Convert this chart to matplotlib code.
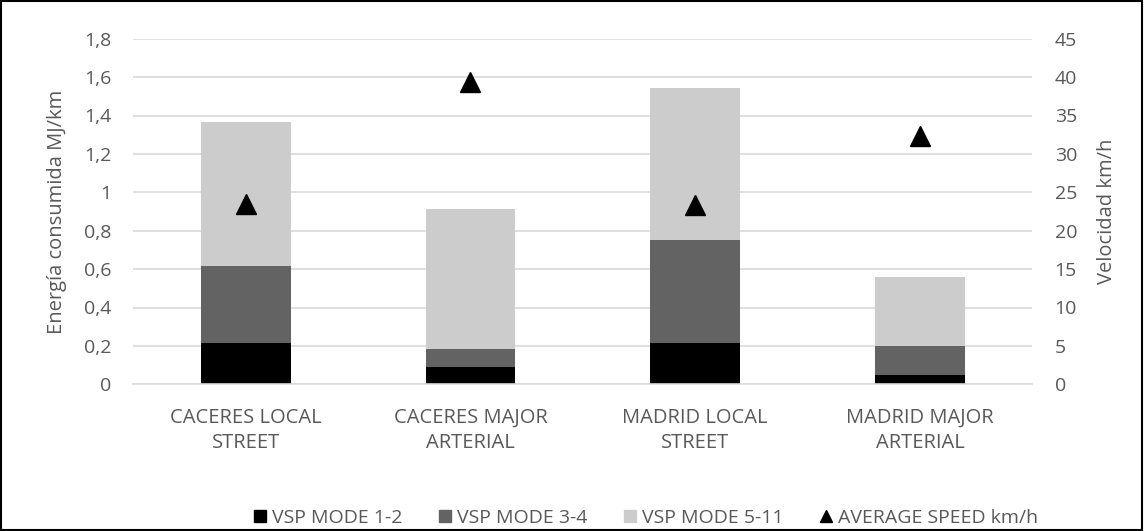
import matplotlib
matplotlib.use("Agg")
import matplotlib.pyplot as plt
from matplotlib.lines import Line2D
from matplotlib.patches import Patch
import numpy as np

plt.rcParams['font.family'] = ['Open Sans', 'DejaVu Sans']

categories = ["CACERES LOCAL\nSTREET", "CACERES MAJOR\nARTERIAL",
              "MADRID LOCAL\nSTREET", "MADRID MAJOR\nARTERIAL"]
vsp_1_2 = [0.215, 0.092, 0.215, 0.048]
vsp_3_4 = [0.403, 0.090, 0.537, 0.152]
vsp_5_11 = [0.750, 0.731, 0.793, 0.359]
avg_speed = [23.5, 39.4, 23.3, 32.3]

yticks_left = [0, 0.2, 0.4, 0.6, 0.8, 1.0, 1.2, 1.4, 1.6, 1.8]
ytick_labels_left = ["0", "0,2", "0,4", "0,6", "0,8", "1", "1,2", "1,4", "1,6", "1,8"]
yticks_right = [0, 5, 10, 15, 20, 25, 30, 35, 40, 45]

text_col = "#595959"
c1, c2, c3 = "#000000", "#636363", "#cccccc"

fig = plt.figure(figsize=(11.44, 5.31), dpi=100)
ax = fig.add_axes([133.3 / 1144, 1 - 384.3 / 531, (1032.4 - 133.3) / 1144, 345.6 / 531])

x = np.arange(len(categories))
w = 0.4
b1 = np.array(vsp_1_2)
b2 = b1 + np.array(vsp_3_4)
ax.bar(x, vsp_1_2, w, color=c1, zorder=2)
ax.bar(x, vsp_3_4, w, bottom=b1, color=c2, zorder=2)
ax.bar(x, vsp_5_11, w, bottom=b2, color=c3, zorder=2)

ax.set_xlim(-0.5, len(categories) - 0.5)
ax.set_ylim(0, 1.8)
ax.set_yticks(yticks_left)
ax.set_yticklabels(ytick_labels_left)
ax.set_xticks(x)
ax.set_xticklabels(categories, linespacing=1.32, fontsize=14.5)
ax.yaxis.grid(True, color="#d9d9d9", linewidth=1.2, zorder=0)
ax.set_axisbelow(True)
for s in ax.spines.values():
    s.set_visible(False)
ax.spines['bottom'].set_visible(True)
ax.spines['bottom'].set_color("#d9d9d9")
ax.spines['bottom'].set_linewidth(1.2)
ax.tick_params(axis='y', length=0, labelsize=14, colors=text_col, pad=16)
ax.tick_params(axis='x', length=0, colors=text_col, pad=17)
ax.set_ylabel("Energía consumida MJ/km", fontsize=14.5, color=text_col, labelpad=12)

ax2 = ax.twinx()
ax2.plot(x, avg_speed, linestyle='none', marker='^', markersize=15, color='black', zorder=3)
ax2.set_ylim(0, 45)
ax2.set_yticks(yticks_right)
for s in ax2.spines.values():
    s.set_visible(False)
ax2.tick_params(axis='y', length=0, labelsize=14, colors=text_col, pad=16)
ax2.set_ylabel("Velocidad km/h", fontsize=14.5, color=text_col, labelpad=14)

handles = [Patch(color=c1), Patch(color=c2), Patch(color=c3),
           Line2D([], [], linestyle='none', marker='^', markersize=9, color='black')]
labels = ["VSP MODE 1-2", "VSP MODE 3-4", "VSP MODE 5-11", "AVERAGE SPEED km/h"]
leg = fig.legend(handles, labels, loc='center', bbox_to_anchor=(646 / 1144, 1 - 518 / 531), ncol=4,
                 frameon=False, fontsize=14, handlelength=0.6, handleheight=0.6,
                 handletextpad=0.3, columnspacing=1.9, labelcolor=text_col)

fig.patches.append(plt.Rectangle((0.0005, 0.001), 0.998, 0.997, transform=fig.transFigure,
                                 fill=False, edgecolor='black', linewidth=1.5))

fig.savefig("out.png", dpi=100)
